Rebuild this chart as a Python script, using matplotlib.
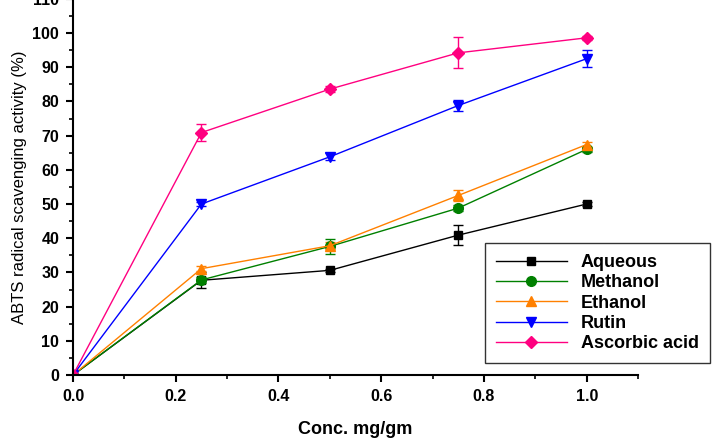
import matplotlib.pyplot as plt
from matplotlib.ticker import MultipleLocator

plt.rcParams['font.family'] = ['Liberation Sans', 'DejaVu Sans']

conc = [0.0, 0.25, 0.5, 0.75, 1.0]
labels = ["Aqueous", "Methanol", "Ethanol", "Rutin", "Ascorbic acid"]
aqueous = [0, 27.7, 30.6, 40.9, 50.0]
aqueous_err = [0, 2.3, 0.5, 3.0, 0.5]
methanol = [0, 27.8, 37.6, 48.8, 66.0]
methanol_err = [0, 0.8, 2.2, 0.8, 0.8]
ethanol = [0, 31.1, 37.8, 52.5, 67.4]
ethanol_err = [0, 0.8, 1.0, 1.5, 0.8]
rutin = [0, 50.0, 63.8, 78.8, 92.5]
rutin_err = [0, 0.5, 1.0, 1.5, 2.5]
ascorbic = [0, 70.9, 83.6, 94.2, 98.6]
ascorbic_err = [0, 2.6, 0.8, 4.5, 0.5]

series = [aqueous, methanol, ethanol, rutin, ascorbic]
errors = [aqueous_err, methanol_err, ethanol_err, rutin_err, ascorbic_err]
colors = ["#000000", "#008000", "#FF8000", "#0000FF", "#FF0080"]
markers = ["s", "o", "^", "v", "D"]
msizes = [6, 7, 7, 7, 6.5]

fig = plt.figure(figsize=(7.18, 4.40), dpi=100)
ax = fig.add_axes([0.1017, 0.1477, 0.787, 0.855])

for y, e, c, m, ms, lab in zip(series, errors, colors, markers, msizes, labels):
    ax.errorbar(conc, y, yerr=e, color=c, marker=m, markersize=ms, lw=1,
                elinewidth=1, capsize=3.5, capthick=1, label=lab)

ax.set_xlim(0, 1.1)
ax.set_ylim(0, 110)
ax.xaxis.set_major_locator(MultipleLocator(0.2))
ax.xaxis.set_minor_locator(MultipleLocator(0.1))
ax.yaxis.set_major_locator(MultipleLocator(10))
ax.yaxis.set_minor_locator(MultipleLocator(5))
ax.spines['top'].set_visible(False)
ax.spines['right'].set_visible(False)
for s in ['left', 'bottom']:
    ax.spines[s].set_linewidth(1.5)
ax.tick_params(which='major', length=5, width=1.5, labelsize=11.5, pad=5)
ax.tick_params(which='minor', length=3, width=1.2)
ax.xaxis.set_major_formatter(plt.FuncFormatter(lambda v, p: f"{v:.1f}"))
for t in ax.get_xticklabels() + ax.get_yticklabels():
    t.set_fontweight('bold')

ax.set_xlabel("Conc. mg/gm", fontsize=13, fontweight='bold', labelpad=12)
ax.set_ylabel("ABTS radical scavenging activity (%)", fontsize=12, labelpad=4)

handles, labs = ax.get_legend_handles_labels()
handles = [h[0] for h in handles]
leg = ax.legend(handles, labs, loc='lower right', bbox_to_anchor=(1.127, 0.032),
                borderaxespad=0, frameon=True, fancybox=False, edgecolor='black',
                prop={'weight': 'bold', 'size': 13}, handlelength=3.9,
                labelspacing=0.18, borderpad=0.6)
leg.get_frame().set_linewidth(1)

fig.savefig("out.png", dpi=100)
